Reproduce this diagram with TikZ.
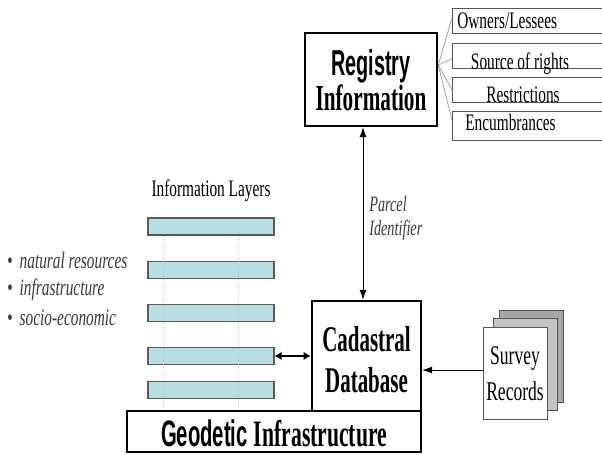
\documentclass[tikz,border=0pt]{standalone}
\usepackage{fontspec}
\setmainfont{Liberation Serif}
\newfontfamily\condserif[FakeStretch=0.65]{Liberation Serif}
\newfontfamily\narrowserif[FakeStretch=0.58]{Liberation Serif}
\newfontfamily\condsans[FakeStretch=0.55]{Liberation Sans}
\usepackage{xcolor}
\definecolor{layerFill}{HTML}{B9DEE2}
\definecolor{layerEdge}{HTML}{5A5A5A}
\definecolor{tagEdge}{HTML}{555555}
\definecolor{sheetMid}{HTML}{C4C4C4}
\definecolor{sheetBack}{HTML}{A6A6A6}
\definecolor{noteText}{HTML}{3A3A3A}
\usetikzlibrary{%
    arrows,
    arrows.meta,
    positioning,
    calc
}

\begin{document}
\begin{tikzpicture}[x=0.025cm, y=-0.025cm,
                mainbox/.style={rectangle, draw, line width=1.8pt, inner sep=0pt, align=center},
                layerbar/.style={rectangle, draw=layerEdge, fill=layerFill, line width=0.8pt, minimum width=3.15cm, minimum height=0.425cm, inner sep=0pt},
                tagbox/.style={rectangle, draw=tagEdge, line width=0.6pt, minimum width=4cm, minimum height=0.625cm, inner sep=0pt},
                sheet/.style={rectangle, draw=tagEdge, line width=0.6pt, minimum width=1.6cm, minimum height=2.3cm, inner sep=0pt},
                tagtext/.style={inner sep=0pt, font=\condserif\fontsize{16.8}{19}\selectfont},
                bullettext/.style={inner sep=0pt, text=noteText, font=\condserif\fontsize{16.8}{19}\selectfont},
                guide/.style={draw=gray!55, dotted, line width=0.6pt},
                fan/.style={draw=gray!80, line width=0.5pt},
                link/.style={draw, line width=0.5pt, {Latex[length=7pt,width=5pt]}-{Latex[length=7pt,width=5pt]}},
                feed/.style={draw, line width=0.5pt, -{Latex[length=7pt,width=5pt]}},
                bothway/.style={draw, line width=1.5pt, {Latex[length=5pt,width=6pt]}-{Latex[length=5pt,width=6pt]}}
            ]

            \path[use as bounding box, clip] (0,0) rectangle (602,454);

            % registry and its attributes
            \node (reg) [mainbox, minimum width=3.3cm, minimum height=2.325cm,
                         text height=43.4pt, text depth=0pt,
                         font=\fontsize{25.6}{24.9}\selectfont] at (371,79.5)
                  {{\condsans\bfseries Registry}\\{\narrowserif\bfseries\fontsize{26}{24.9}\selectfont Information}};

            \node (owners) [tagbox, anchor=north west] at (452,8) {};
            \node (source) [tagbox, below=0.225cm of owners] {};
            \node (restrict) [tagbox, below=0.2cm of source] {};
            \node (encumb) [tagbox, minimum height=0.725cm, below=0.2cm of restrict] {};

            \node (ownersTxt) [tagtext, anchor=base west] at (457,28) {Owners/Lessees};
            \node (sourceTxt) [tagtext, anchor=base] at (520,69) {Source of rights};
            \node (restrictTxt) [tagtext, anchor=base] at (523,102) {Restrictions};
            \node (encumbTxt) [tagtext, anchor=base west] at (465,130) {Encumbrances};

            \coordinate (fanroot) at ($(reg.east)+(0,-14.5)$);
            \draw [fan] (fanroot) -- ($(owners.west)+(0,-3)$);
            \draw [fan] (fanroot) -- ($(source.west)+(0,3)$);
            \draw [fan] (fanroot) -- (restrict.west);
            \draw [fan] (fanroot) -- ($(encumb.west)+(0,-5)$);

            % cadastre and geodetic base
            \node (cad) [mainbox, minimum width=2.725cm, minimum height=2.75cm,
                         text height=52.6pt, text depth=0pt,
                         font=\narrowserif\bfseries\fontsize{25.7}{29.2}\selectfont] at (366.5,356)
                  {Cadastral\\Database};
            \node (geo) [mainbox, minimum width=7.35cm, minimum height=1.025cm,
                         text height=22pt, text depth=0pt,
                         font=\fontsize{26.2}{28}\selectfont] at (274,431.5)
                  {{\condsans\bfseries Geodetic}\,{\narrowserif\bfseries\fontsize{26.5}{28}\selectfont Infrastructure}};

            \coordinate (linkfoot) at ($(cad.north)+(-3.5,0)$);
            \draw [link] (linkfoot) -- (linkfoot |- reg.south);
            \node (parcel) [inner sep=0pt, anchor=base west, align=left, text=noteText,
                            font=\condserif\itshape\fontsize{15.6}{16.4}\selectfont] at (369,235)
                  {Parcel\\Identifier};

            % information layers
            \node (layersTitle) [tagtext, anchor=base] at (211,196) {Information Layers};
            \node (layer1) [layerbar] at (211,226.5) {};
            \node (layer2) [layerbar, below=0.625cm of layer1] {};
            \node (layer3) [layerbar, below=0.625cm of layer2] {};
            \node (layer4) [layerbar, below=0.625cm of layer3] {};
            \node (layer5) [layerbar, below=0.4cm of layer4] {};

            \foreach \dx [count=\i] in {-48,27} {
                \coordinate (guide\i) at ($(layer1.south)+(\dx,0)$);
                \draw [guide] (guide\i) -- (guide\i |- geo.north);
            }

            \draw [bothway] (layer4.east) -- (layer4.east -| cad.west);

            \node (natres) [bullettext, anchor=base west] at (7,268) {\textbullet\hspace{5pt}\textit{natural resources}};
            \node (infra) [bullettext, anchor=base west] at (7,295) {\textbullet\hspace{5pt}\textit{infrastructure}};
            \node (socio) [bullettext, anchor=base west] at (7,325) {\textbullet\hspace{5pt}\textit{socio-economic}};

            % survey records
            \node (sheetBack) [sheet, fill=sheetBack] at (531.5,356) {};
            \node (sheetMid) [sheet, fill=sheetMid] at (525.5,364.5) {};
            \node (survey) [sheet, fill=white, align=center,
                            text height=38.4pt, text depth=0pt,
                            font=\condserif\fontsize{19.2}{25}\selectfont] at (515,373)
                  {Survey\\Records};

            \coordinate (feedstart) at ($(survey.west)+(0,-3)$);
            \draw [feed] (feedstart) -- (feedstart -| cad.east);
        \end{tikzpicture}
\end{document}
